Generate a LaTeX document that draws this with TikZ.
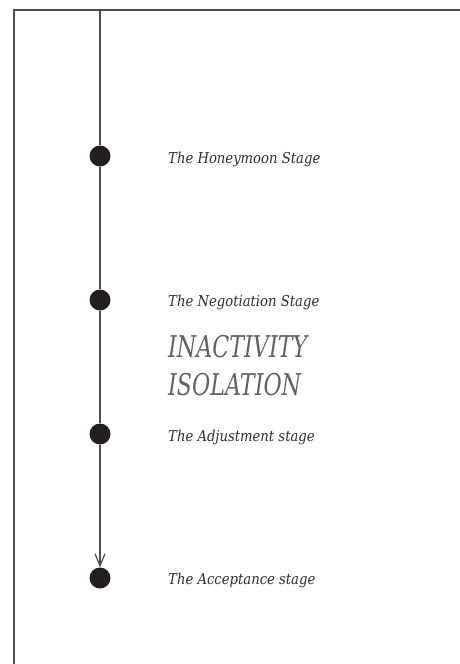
\documentclass[tikz,border=0pt]{standalone}
\usepackage{fontspec}
\newfontfamily\stagefont{DejaVu Serif}[FakeStretch=0.88]
\newfontfamily\moodfont{DejaVu Serif}[FakeStretch=0.74]
\usetikzlibrary{arrows.meta}
\definecolor{ink}{HTML}{231F20}
\definecolor{linegray}{HTML}{4D4D4D}
\definecolor{txtgray}{HTML}{2E2E2E}

\begin{document}
\begin{tikzpicture}[x=1pt,y=-1pt]
    \tikzstyle{dot}=[circle, fill=ink, inner sep=0pt, minimum size=21pt]
    \tikzstyle{frame}=[linegray, line width=1.2pt]
    \tikzstyle{stage}=[anchor=base west, inner sep=0pt, text=txtgray, font=\stagefont\itshape\fontsize{15}{18}\selectfont]
    \tikzstyle{mood}=[anchor=base west, inner sep=0pt, text=txtgray!75, font=\moodfont\itshape\fontsize{30}{36}\selectfont]

    \useasboundingbox (0,0) rectangle (460,664);

    % frame
    \coordinate (corner) at (14,10);
    \draw[frame] (14,664) -- (corner) -- (460,10);

    % timeline
    \coordinate (start) at (100,10);
    \node[dot] (honeymoon)   at (100,156) {};
    \node[dot] (negotiation) at (100,300) {};
    \node[dot] (adjustment)  at (100,434) {};
    \node[dot] (acceptance)  at (100,578) {};

    \draw[frame] (start) -- (honeymoon) -- (negotiation) -- (adjustment);
    \draw[frame, -{Straight Barb[length=12pt, width=10pt]}] (adjustment) -- (acceptance);

    % labels
    \node[stage] (honeymoon-l)   at (168,163) {The Honeymoon Stage};
    \node[stage] (negotiation-l) at (168,306) {The Negotiation Stage};
    \node[mood]  (inactivity)    at (168,357) {INACTIVITY};
    \node[mood]  (isolation)     at (168,395) {ISOLATION};
    \node[stage] (adjustment-l)  at (168,441) {The Adjustment stage};
    \node[stage] (acceptance-l)  at (168,584) {The Acceptance stage};
\end{tikzpicture}
\end{document}
